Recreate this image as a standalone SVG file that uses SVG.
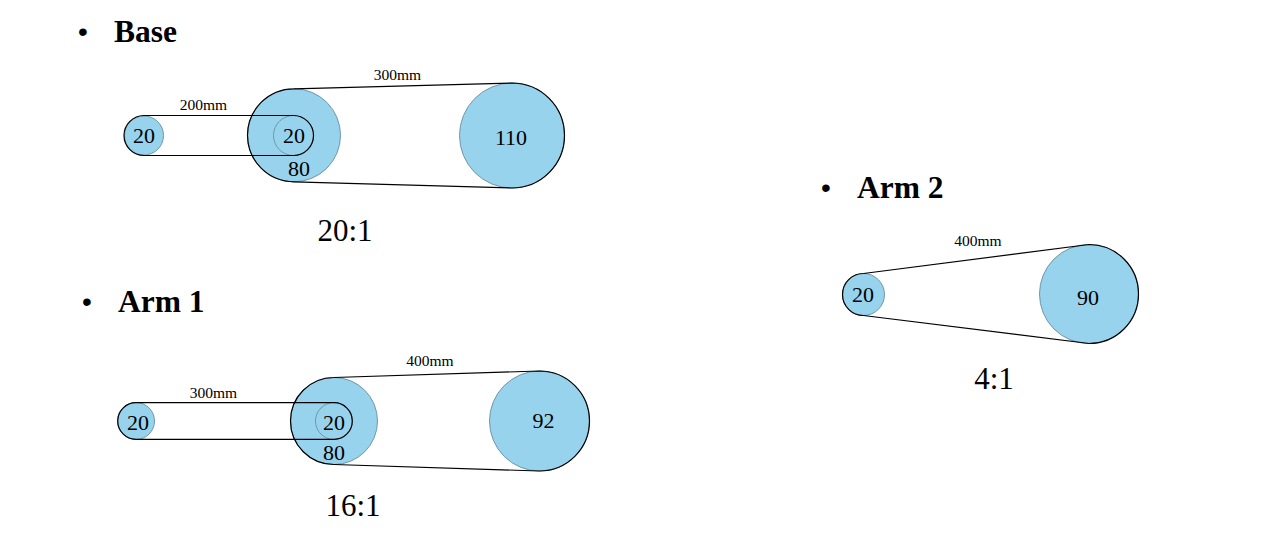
<svg xmlns="http://www.w3.org/2000/svg" width="1280" height="538" viewBox="0 0 1280 538">
<style>
text{font-family:"Liberation Serif","Times New Roman",serif;fill:#000}
.h{font-size:31.500px;font-weight:bold}
.b{font-family:"Liberation Sans",Arial,sans-serif;font-size:28px}
.r{font-size:31px;text-anchor:middle}
.n{font-size:22px;text-anchor:middle}
.m{font-size:15.5px;text-anchor:middle}
.p{fill:#98d3ee;stroke:#6f97a8;stroke-width:1}
.belt{fill:none;stroke:#000;stroke-width:1.2}
</style>
<rect width="1280" height="538" fill="#fff"/>
<g id="heading-base"><text class="b" x="78" y="41">•</text><text class="h" x="114" y="42">Base</text></g>
<g id="heading-arm1"><text class="b" x="82" y="311">•</text><text class="h" x="118" y="312">Arm 1</text></g>
<g id="heading-arm2"><text class="b" x="821" y="197">•</text><text class="h" x="857" y="198">Arm 2</text></g>
<g id="base-p20a"><circle class="p" cx="144" cy="135.5" r="19.5"/><text class="n" x="144" y="143">20</text></g>
<g id="base-p80"><circle class="p" cx="294" cy="135.3" r="46.5"/><text class="n" x="299" y="176">80</text></g>
<g id="base-p20b"><circle class="p" cx="293.5" cy="135.5" r="20"/><text class="n" x="294" y="143">20</text></g>
<g id="base-p110"><circle class="p" cx="512" cy="135.5" r="52.5"/><text class="n" x="511" y="145">110</text></g>
<g id="arm1-p20a"><circle class="p" cx="136" cy="421" r="18.5"/><text class="n" x="138" y="430">20</text></g>
<g id="arm1-p80"><circle class="p" cx="334" cy="421" r="43.5"/><text class="n" x="334" y="460">80</text></g>
<g id="arm1-p20b"><circle class="p" cx="334" cy="421" r="18.5"/><text class="n" x="334" y="430">20</text></g>
<g id="arm1-p92"><circle class="p" cx="539.5" cy="421" r="50"/><text class="n" x="543.500" y="428">92</text></g>
<g id="arm2-p20"><circle class="p" cx="863.5" cy="294.5" r="21"/><text class="n" x="863" y="302">20</text></g>
<g id="arm2-p90"><circle class="p" cx="1089" cy="294" r="49.5"/><text class="n" x="1088" y="304.500">90</text></g>
<g id="connectors">
<path class="belt" d="M144 115.5H293.5A20 20 0 0 1 293.5 155.5H144A20 20 0 0 1 144 115.5Z"/>
<path class="belt" d="M294 88.800L512 83A52.500 52.500 0 0 1 512 188L294 181.800A46.500 46.500 0 0 1 294 88.800Z"/>
<path class="belt" d="M136 402.700H334A18.300 18.300 0 0 1 334 439.300H136A18.300 18.300 0 0 1 136 402.700Z"/>
<path class="belt" d="M334 377.500L539.500 371A50 50 0 0 1 539.500 471L334 464.500A43.500 43.500 0 0 1 334 377.500Z"/>
<path class="belt" d="M863.500 273.500L1089 244.500A49.500 49.500 0 0 1 1089 343.500L863.500 315.500A21 21 0 0 1 863.500 273.500Z"/>
</g>
<g id="labels">
<text class="m" x="203.500" y="110">200mm</text>
<text class="m" x="397.500" y="80">300mm</text>
<text class="m" x="213.500" y="398">300mm</text>
<text class="m" x="430" y="366">400mm</text>
<text class="m" x="978" y="246">400mm</text>
<text class="r" x="345" y="241">20:1</text>
<text class="r" x="353" y="516">16:1</text>
<text class="r" x="994" y="389">4:1</text>
</g>
</svg>
